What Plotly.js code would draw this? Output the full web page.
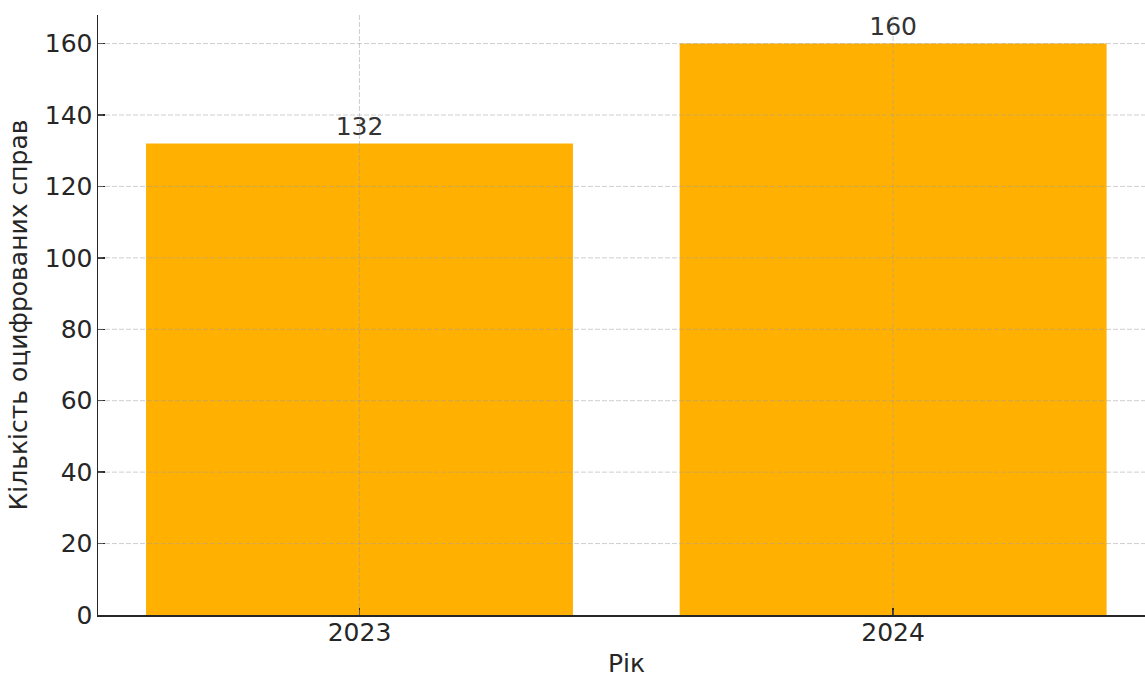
<!DOCTYPE html>
<html>
<head>
<meta charset="utf-8">
<script src="https://cdn.plot.ly/plotly-3.0.1.min.js"></script>
<style>html,body{margin:0;padding:0;background:#fff;}#chart{width:1145px;height:677px;}</style>
</head>
<body>
<div id="chart"></div>
<script>
const years = ['2023', '2024'];
const counts = [132, 160];
const yTicks = [0, 20, 40, 60, 80, 100, 120, 140, 160];
const xTitle = 'Рік';
const yTitle = 'Кількість оцифрованих справ';

const gridStyle = {color: 'rgba(160,160,160,0.5)', width: 1, dash: '5px,2px'};
const shapes = [];
yTicks.filter(v => v > 0).forEach(v => shapes.push({
  type: 'line', xref: 'paper', yref: 'y', x0: 0, x1: 1, y0: v, y1: v,
  line: gridStyle, layer: 'above'
}));
years.forEach((c, i) => shapes.push({
  type: 'line', xref: 'x', yref: 'paper', x0: i, x1: i, y0: 0, y1: 1,
  line: gridStyle, layer: 'above'
}));

const trace = {
  type: 'bar',
  x: years.map((_, i) => i),
  y: counts,
  width: 0.8,
  marker: {color: '#FFB000', line: {width: 0}},
  text: counts.map(String),
  textposition: 'outside',
  cliponaxis: false,
  textfont: {family: 'DejaVu Sans', size: 25, color: '#333333'},
  hoverinfo: 'skip'
};

const font = {family: 'DejaVu Sans', size: 25, color: '#262626'};
const layout = {
  width: 1145, height: 677,
  margin: {l: 98, r: 0, t: 15, b: 62},
  paper_bgcolor: '#ffffff', plot_bgcolor: '#ffffff',
  showlegend: false,
  font: font,
  xaxis: {
    range: [-0.49, 1.472],
    tickmode: 'array', tickvals: years.map((_, i) => i), ticktext: years,
    showgrid: false, zeroline: false,
    showline: true, linecolor: '#262626', linewidth: 1.5,
    ticks: 'inside', ticklen: 7, tickwidth: 1.3, tickcolor: '#262626',
    tickfont: font,
    ticklabelstandoff: -6
  },
  yaxis: {
    range: [0, 168],
    tickmode: 'array', tickvals: yTicks, ticktext: yTicks.map(String),
    showgrid: false, zeroline: false,
    showline: true, linecolor: '#262626', linewidth: 1.5,
    ticks: 'inside', ticklen: 7, tickwidth: 1.3, tickcolor: '#262626',
    tickfont: font,
    ticklabelstandoff: -1,
    title: {text: yTitle, font: font, standoff: 10}
  },
  annotations: [{
    text: xTitle, xref: 'paper', yref: 'paper', x: 0.5048, y: 0,
    yshift: -65, xanchor: 'center', yanchor: 'bottom', showarrow: false, font: font
  }],
  shapes: shapes,
  bargap: 0.2
};
Plotly.newPlot('chart', [trace], layout, {displayModeBar: false, staticPlot: true});
</script>
</body>
</html>
